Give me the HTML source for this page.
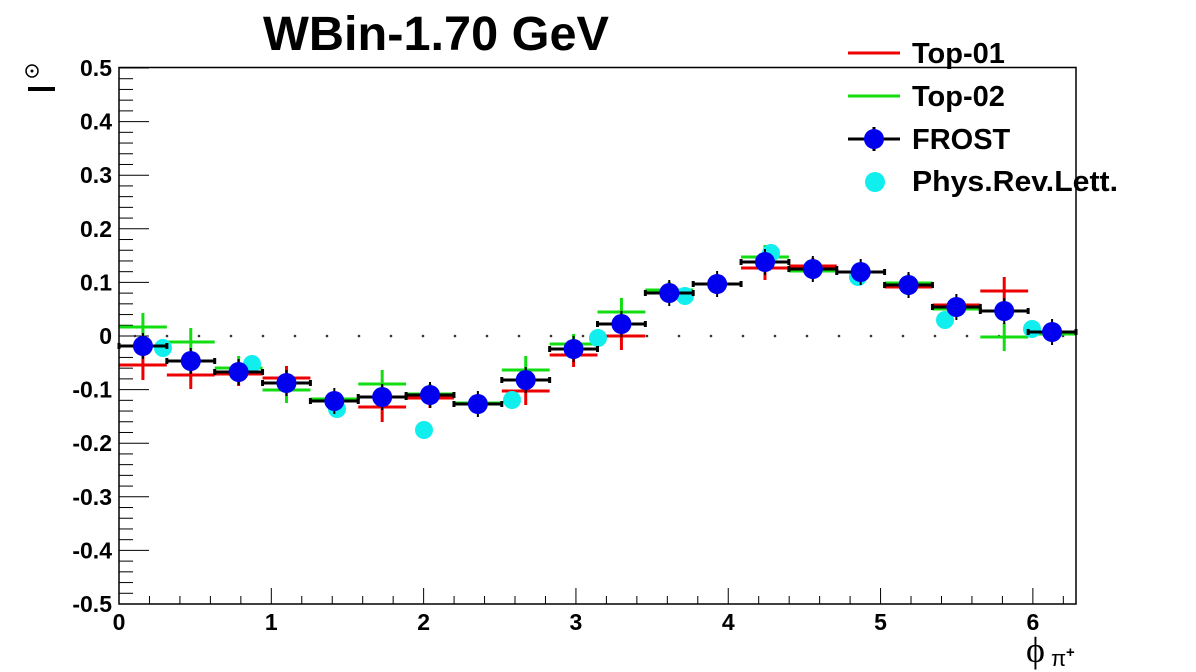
<!DOCTYPE html>
<html><head><meta charset="utf-8"><style>
html,body{margin:0;padding:0;background:#fff;}
svg{display:block;font-family:"Liberation Sans",Arial,sans-serif;font-weight:bold;}
</style></head><body>
<svg id="s" width="1196" height="672" xmlns="http://www.w3.org/2000/svg">
<rect width="1196" height="672" fill="#fff"/>
<text x="436" y="50" font-size="48" text-anchor="middle" textLength="346" lengthAdjust="spacingAndGlyphs">WBin-1.70 GeV</text>
<g id="g"></g>
<rect x="119" y="67.5" width="957" height="536.5" fill="none" stroke="#000" stroke-width="1.5"/>
<circle cx="32" cy="71" r="6" fill="none" stroke="#000" stroke-width="1.5"/>
<circle cx="32" cy="71" r="1.5" fill="#000"/>
<rect x="28" y="87" width="27" height="4" fill="#000"/>
<text x="1026" y="662" font-size="36" font-weight="normal" font-family="Liberation Serif,serif">ϕ</text>
<text x="1051" y="666" font-size="22" font-weight="normal">π</text>
<text x="1066" y="657" font-size="15">+</text>
<line x1="848" y1="53" x2="900" y2="53" stroke="#e00" stroke-width="3"/>
<text x="912" y="63" font-size="29">Top-01</text>
<line x1="848" y1="96" x2="900" y2="96" stroke="#1d1" stroke-width="3"/>
<text x="912" y="106" font-size="29">Top-02</text>
<line x1="848" y1="139" x2="900" y2="139" stroke="#000" stroke-width="3"/>
<line x1="874" y1="127" x2="874" y2="151" stroke="#000" stroke-width="3"/>
<circle cx="874" cy="139" r="10" fill="#0000ee"/>
<text x="912" y="149" font-size="29">FROST</text>
<circle cx="875" cy="182" r="10" fill="#11eeee"/>
<text x="912" y="191" font-size="29" textLength="206" lengthAdjust="spacingAndGlyphs">Phys.Rev.Lett.</text>
</svg>
<script>
var g=document.getElementById('g'),h='';
var X0=119,W=957,Y0=336,SY=536;
function px(x){return X0+x*W/(2*Math.PI);}
function py(y){return Y0-y*SY;}
for(var i=0;i<=50;i++){var v=-0.5+i*0.02,y=py(v),maj=(i%5==0);
h+='<line x1="119" y1="'+y+'" x2="'+(119+(maj?30:14))+'" y2="'+y+'" stroke="#000" stroke-width="1"/>';
if(maj){var t=(Math.round(v*10)/10);var s=(t==0?'0':(t<0?'-':'')+Math.abs(t).toFixed(1));
h+='<text x="112" y="'+(y+8)+'" font-size="23" text-anchor="end">'+s+'</text>';}}
for(var i=0;i<=31;i++){var v=i*0.2,x=px(v),maj=(i%5==0);
h+='<line x1="'+x+'" y1="604" x2="'+x+'" y2="'+(604-(maj?16:8))+'" stroke="#000" stroke-width="1"/>';
if(maj)h+='<text x="'+x+'" y="630" font-size="23" text-anchor="middle">'+(i/5)+'</text>';}
for(var x=135;x<1076;x+=32)h+='<circle cx="'+x+'" cy="336" r="1.3" fill="#333"/>';
var bw=W/20;
function cx(i){return X0+bw*(i+0.5);}
var red=[365,375,374,378,400,407,398,404,391,355,336,292,284,268,266,272,287,305,291,332];
var grn=[327,342,368,390,399,384,394,403,370,344,312,290,284,257,271,272,283,309,337,334];
var fr=[346,361,372,383,401,397,395,404,380,349,324,293,284,262,269,272,285,307,311,332];
var re=[15,14,12,12,4,15,10,4,14,12,14,10,8,12,8,6,8,8,14,4];
var ge=[14,14,12,13,6,14,10,5,14,10,14,8,6,12,8,8,9,8,14,4];
function series(a,e,c){for(var i=0;i<20;i++){var x=cx(i);
h+='<line x1="'+(x-bw/2)+'" y1="'+a[i]+'" x2="'+(x+bw/2)+'" y2="'+a[i]+'" stroke="'+c+'" stroke-width="3"/>';
h+='<line x1="'+x+'" y1="'+(a[i]-e[i])+'" x2="'+x+'" y2="'+(a[i]+e[i])+'" stroke="'+c+'" stroke-width="3"/>';}}
series(red,re,'#e00');series(grn,ge,'#1d1');
var cy=[[163,348],[252,364],[337,409],[424,430],[512,400],[598,338],[685,296],[771,253],[858,277],[945,320],[1032,329]];
cy.forEach(function(p){h+='<circle cx="'+p[0]+'" cy="'+p[1]+'" r="9" fill="#11eeee"/>';});
for(var i=0;i<20;i++){var x=cx(i),y=fr[i];
h+='<line x1="'+(x-bw/2)+'" y1="'+y+'" x2="'+(x+bw/2)+'" y2="'+y+'" stroke="#000" stroke-width="3"/>';
h+='<line x1="'+(x-bw/2)+'" y1="'+(y-3)+'" x2="'+(x-bw/2)+'" y2="'+(y+3)+'" stroke="#000" stroke-width="3"/>';
h+='<line x1="'+(x+bw/2)+'" y1="'+(y-3)+'" x2="'+(x+bw/2)+'" y2="'+(y+3)+'" stroke="#000" stroke-width="3"/>';
h+='<line x1="'+x+'" y1="'+(y-13)+'" x2="'+x+'" y2="'+(y+13)+'" stroke="#000" stroke-width="2"/>';
h+='<circle cx="'+x+'" cy="'+y+'" r="10" fill="#0000ee"/>';}
g.innerHTML=h;
</script>
</body></html>
